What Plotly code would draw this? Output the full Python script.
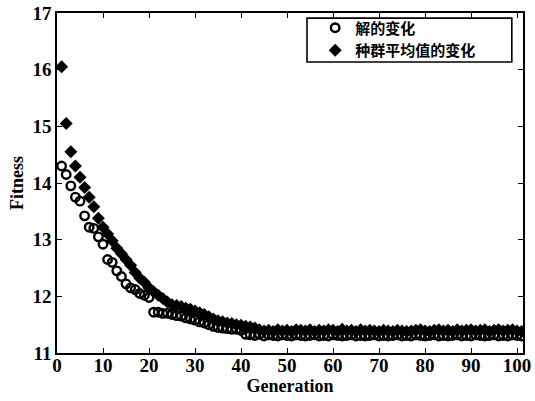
import plotly.graph_objects as go

generations = list(range(1, 102))

best_values = [
    14.30, 14.15, 13.95, 13.75, 13.68, 13.42, 13.22, 13.20, 13.05, 12.92,
    12.65, 12.60, 12.45, 12.35, 12.22, 12.15, 12.12, 12.05, 12.02, 11.98,
    11.72, 11.72, 11.70, 11.70, 11.68, 11.66, 11.65, 11.62, 11.60, 11.58,
    11.55, 11.53, 11.50, 11.47, 11.45, 11.44, 11.43, 11.42, 11.42, 11.40,
    11.33, 11.32, 11.31, 11.33, 11.30, 11.32, 11.31, 11.30, 11.32, 11.31,
    11.30, 11.32, 11.31, 11.30, 11.31, 11.32, 11.30, 11.31, 11.30, 11.32,
    11.31, 11.30, 11.31, 11.32, 11.30, 11.31, 11.30, 11.31, 11.32, 11.30,
    11.31, 11.30, 11.31, 11.32, 11.30, 11.31, 11.30, 11.32, 11.31, 11.30,
    11.31, 11.32, 11.30, 11.31, 11.30, 11.31, 11.32, 11.30, 11.31, 11.30,
    11.32, 11.31, 11.30, 11.31, 11.32, 11.30, 11.31, 11.30, 11.32, 11.31,
    11.30,
]

mean_values = [
    16.05, 15.05, 14.55, 14.30, 14.10, 13.92, 13.75, 13.58, 13.38, 13.22,
    13.10, 12.98, 12.85, 12.75, 12.65, 12.55, 12.42, 12.32, 12.25, 12.15,
    12.08, 12.02, 11.96, 11.90, 11.85, 11.84, 11.82, 11.79, 11.77, 11.74,
    11.71, 11.68, 11.64, 11.60, 11.57, 11.55, 11.53, 11.52, 11.50, 11.49,
    11.47, 11.46, 11.44, 11.41, 11.39, 11.40, 11.38, 11.41, 11.39, 11.40,
    11.38, 11.41, 11.40, 11.39, 11.41, 11.38, 11.40, 11.39, 11.41, 11.40,
    11.38, 11.42, 11.39, 11.40, 11.38, 11.41, 11.39, 11.40, 11.39, 11.38,
    11.40, 11.39, 11.38, 11.40, 11.39, 11.38, 11.39, 11.40, 11.41, 11.39,
    11.38, 11.40, 11.41, 11.39, 11.40, 11.38, 11.41, 11.39, 11.40, 11.41,
    11.39, 11.40, 11.41, 11.38, 11.40, 11.41, 11.39, 11.40, 11.41, 11.39,
    11.38,
]

x_ticks = [0, 10, 20, 30, 40, 50, 60, 70, 80, 90, 100]
y_ticks = [11, 12, 13, 14, 15, 16, 17]

fig = go.Figure()
fig.add_trace(go.Scatter(
    x=generations, y=best_values, mode="markers", name="解的变化",
    marker=dict(symbol="circle-open", size=8.5, color="black", line=dict(width=2.4, color="black")),
))
fig.add_trace(go.Scatter(
    x=generations, y=mean_values, mode="markers", name="种群平均值的变化",
    marker=dict(symbol="diamond", size=10, color="black"),
))

axis_common = dict(
    showgrid=False, zeroline=False, showline=True, linecolor="black", linewidth=1.6,
    mirror="ticks", ticks="inside", ticklen=5, tickwidth=1.4, tickcolor="black",
    automargin=False,
    tickfont=dict(family="Liberation Serif", size=19, color="black", weight="bold"),
)

fig.update_layout(
    width=535, height=401,
    margin=dict(l=57, r=12, t=12, b=48),
    paper_bgcolor="white", plot_bgcolor="white",
    xaxis=dict(range=[0, 101.3], tickvals=x_ticks, ticklabelstandoff=-6,
               title=dict(text="Generation", standoff=0,
                          font=dict(family="Liberation Serif", size=18, color="black", weight="bold")),
               **axis_common),
    yaxis=dict(range=[11, 17], tickvals=y_ticks,
               title=dict(text="Fitness", standoff=4,
                          font=dict(family="Liberation Serif", size=18, color="black", weight="bold")),
               **axis_common),
    legend=dict(
        x=0.554, y=0.921, xanchor="left", yanchor="middle",
        bgcolor="rgba(0,0,0,0)", borderwidth=0,
        font=dict(family="Noto Sans CJK SC", size=15, color="black", weight="bold"),
        tracegroupgap=0, itemwidth=30,
    ),
    shapes=[dict(type="rect", xref="paper", yref="paper",
                 x0=0.5365, x1=0.976, y0=0.856, y1=0.985,
                 line=dict(color="black", width=1.6), fillcolor="white", layer="below")],
    showlegend=True,
)

fig.write_html("out.html", config={"displayModeBar": False},
               post_script="document.body.style.margin='0';")
